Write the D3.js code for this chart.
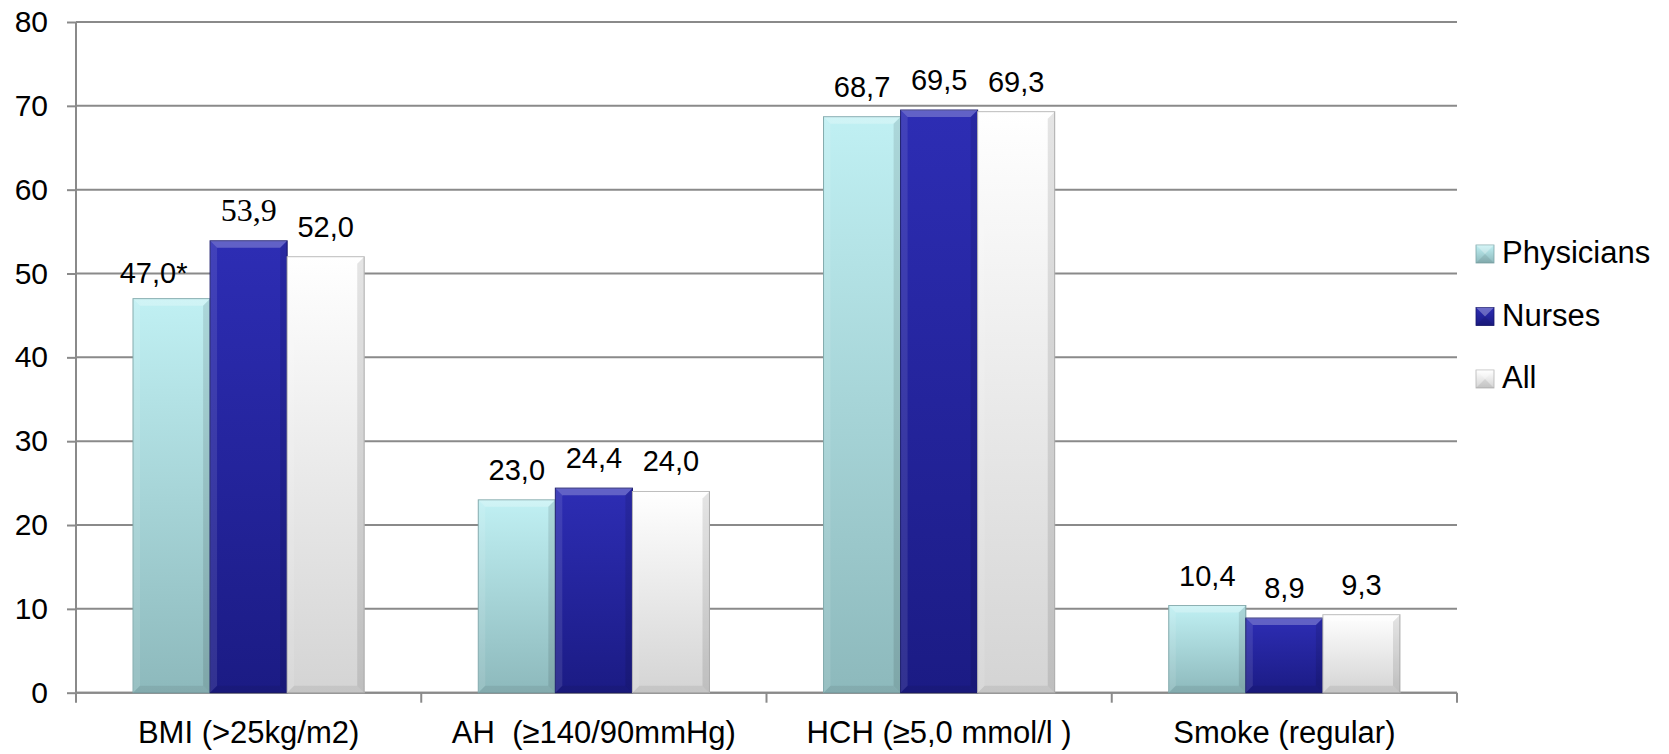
<!DOCTYPE html>
<html>
<head>
<meta charset="utf-8">
<script src="https://cdn.jsdelivr.net/npm/d3@7/dist/d3.min.js"></script>
<style>
  body { margin: 0; background: #fff; }
  text { font-family: "Liberation Sans", Arial, sans-serif; fill: #000; white-space: pre; }
</style>
</head>
<body>
<div id="chart"></div>
<script>
var categories = ["BMI (>25kg/m2)", "AH  (≥140/90mmHg)", "HCH (≥5,0 mmol/l )", "Smoke (regular)"],
    seriesNames = ["Physicians", "Nurses", "All"],
    physicians = [47.0, 23.0, 68.7, 10.4],
    nurses = [53.9, 24.4, 69.5, 8.9],
    all = [52.0, 24.0, 69.3, 9.3],
    labels = [["47,0*", "23,0", "68,7", "10,4"],
              ["53,9", "24,4", "69,5", "8,9"],
              ["52,0", "24,0", "69,3", "9,3"]],
    yTicks = [0, 10, 20, 30, 40, 50, 60, 70, 80];

var series = [physicians, nurses, all];

var width = 1669, height = 754,
    plot = {left: 76, right: 1457, top: 22, bottom: 692.7},
    grey = "#8a8a8a",
    colours = [{top: "#c0f0f3", bottom: "#8db9bc", edge: "#7da6a9"},
               {top: "#2d2db4", bottom: "#1b1b84", edge: "#15156a"},
               {top: "#ffffff", bottom: "#d4d4d4", edge: "#b5b5b5"}];

var svg = d3.select("#chart").append("svg")
    .attr("width", width)
    .attr("height", height);

var defs = svg.append("defs");
colours.forEach(function(c, i) {
  var g = defs.append("linearGradient")
      .attr("id", "grad" + i)
      .attr("x1", 0).attr("y1", 0).attr("x2", 0).attr("y2", 1);
  g.append("stop").attr("offset", "0%").attr("stop-color", c.top);
  g.append("stop").attr("offset", "100%").attr("stop-color", c.bottom);
});

var x0 = d3.scaleBand()
    .domain(categories)
    .range([plot.left, plot.right])
    .padding(0);

var x1 = d3.scaleBand()
    .domain(d3.range(seriesNames.length))
    .range([0, x0.bandwidth()])
    .paddingInner(0)
    .paddingOuter(0.74);

var y = d3.scaleLinear()
    .domain([0, 80])
    .range([plot.bottom, plot.top]);

// gridlines
svg.append("g")
  .selectAll("line")
  .data(yTicks)
  .enter().append("line")
    .attr("x1", plot.left)
    .attr("x2", plot.right)
    .attr("y1", function(d) { return y(d); })
    .attr("y2", function(d) { return y(d); })
    .attr("stroke", grey)
    .attr("stroke-width", 2);

// y axis
var yAxis = svg.append("g")
    .attr("transform", "translate(" + plot.left + ",0)")
    .call(d3.axisLeft(y).tickValues(yTicks).tickSize(9).tickPadding(19));
yAxis.selectAll("text").style("font-size", "30px").style("font-family", "Liberation Sans, Arial, sans-serif");
yAxis.selectAll("line").attr("stroke", grey).attr("stroke-width", 2);
yAxis.select(".domain").attr("stroke", grey).attr("stroke-width", 2)
    .attr("d", "M0," + y(80) + "V" + y(0));

// x axis
var xAxis = svg.append("g")
    .attr("transform", "translate(0," + y(0) + ")")
    .call(d3.axisBottom(x0).tickSize(0).tickPadding(28));
xAxis.selectAll("text")
    .style("font-size", "31px")
    .style("font-family", "Liberation Sans, Arial, sans-serif")
    .style("white-space", "pre");
xAxis.select(".domain").attr("stroke", grey).attr("stroke-width", 2)
    .attr("d", "M" + plot.left + ",0H" + plot.right);

var boundaries = categories.map(function(c) { return x0(c); }).concat([x0.range()[1]]);
svg.append("g")
  .selectAll("line")
  .data(boundaries)
  .enter().append("line")
    .attr("x1", function(d) { return d; })
    .attr("x2", function(d) { return d; })
    .attr("y1", y(0))
    .attr("y2", y(0) + 10)
    .attr("stroke", grey)
    .attr("stroke-width", 2);

// bars
var groups = svg.append("g")
  .selectAll("g")
  .data(categories)
  .enter().append("g")
    .attr("transform", function(d) { return "translate(" + x0(d) + ",0)"; });

groups.each(function(cat, ci) {
  var g = d3.select(this);
  series.forEach(function(s, si) {
    var bx = x1(si), bw = x1.bandwidth(),
        by = y(s[ci]), bh = y(0) - y(s[ci]);
    g.append("rect")
        .attr("x", bx)
        .attr("y", by)
        .attr("width", bw)
        .attr("height", bh)
        .attr("fill", "url(#grad" + si + ")")
        .attr("stroke", colours[si].edge)
        .attr("stroke-width", 1);
    // bevel highlights
    var b = 7;
    g.append("path")
        .attr("d", "M" + bx + "," + by + "h" + bw + "l" + (-b) + "," + b + "h" + (-(bw - 2 * b)) + "z")
        .attr("fill", "#fff").attr("fill-opacity", 0.25);
    g.append("path")
        .attr("d", "M" + bx + "," + by + "l" + b + "," + b + "v" + (bh - 2 * b) + "l" + (-b) + "," + b + "z")
        .attr("fill", "#fff").attr("fill-opacity", 0.1);
    g.append("path")
        .attr("d", "M" + (bx + bw) + "," + by + "l" + (-b) + "," + b + "v" + (bh - 2 * b) + "l" + b + "," + b + "z")
        .attr("fill", "#000").attr("fill-opacity", 0.1);
    g.append("path")
        .attr("d", "M" + bx + "," + (by + bh) + "h" + bw + "l" + (-b) + "," + (-b) + "h" + (-(bw - 2 * b)) + "z")
        .attr("fill", "#000").attr("fill-opacity", 0.07);

    var lbl = labels[si][ci],
        serif = lbl === "53,9",
        star = lbl.indexOf("*") >= 0;
    g.append("text")
        .attr("x", bx + bw / 2 + (star ? -18 : 0))
        .attr("y", by - (star ? 16 : 20))
        .attr("text-anchor", "middle")
        .style("font-size", serif ? "32px" : "29px")
        .style("font-family", serif ? "Liberation Serif, Times New Roman, serif" : "Liberation Sans, Arial, sans-serif")
        .text(lbl);
  });
});

// legend
var legend = svg.append("g")
    .attr("transform", "translate(1476,263)");
seriesNames.forEach(function(name, i) {
  var lg = legend.append("g").attr("transform", "translate(0," + (i * 62.5) + ")");
  lg.append("rect")
      .attr("x", 0).attr("y", -18)
      .attr("width", 18).attr("height", 18)
      .attr("fill", "url(#grad" + i + ")")
      .attr("stroke", colours[i].edge)
      .attr("stroke-width", 0.8);
  lg.append("path")
      .attr("d", "M0,-18h18l-9,9z")
      .attr("fill", "#fff").attr("fill-opacity", 0.3);
  lg.append("path")
      .attr("d", "M0,0h18l-9,-9z")
      .attr("fill", "#000").attr("fill-opacity", 0.08);
  lg.append("text")
      .attr("x", 26)
      .attr("y", 0)
      .style("font-size", "31px")
      .text(name);
});
</script>
</body>
</html>
